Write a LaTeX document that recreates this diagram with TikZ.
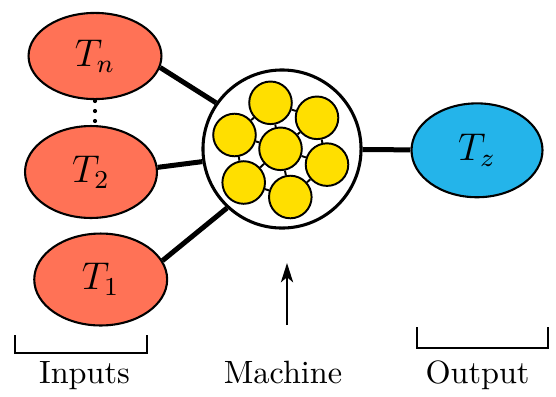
\documentclass[tikz,border=0pt]{standalone}
\usetikzlibrary{shapes.geometric,arrows.meta}
\definecolor{inred}{HTML}{FF7256}
\definecolor{outblue}{HTML}{24B4EA}
\definecolor{unityellow}{HTML}{FFDF00}
\begin{document}
\begin{tikzpicture}[x=0.31pt,y=-0.31pt,
  term/.style={ellipse,draw,line width=0.65pt,inner sep=0pt,font=\large},
  machine/.style={circle,draw,line width=0.95pt,minimum size=49pt,inner sep=0pt},
  unit/.style={circle,draw,line width=0.6pt,fill=unityellow,minimum size=13.2pt,inner sep=0pt},
  link/.style={line width=1.55pt},
  ulink/.style={line width=0.6pt},
  bracket/.style={line width=0.6pt},
  lbl/.style={anchor=base,inner sep=0pt}]
\useasboundingbox (0,0) rectangle (556,396);
% input and output terms
\node[term,fill=inred,minimum width=41.2pt,minimum height=26.7pt] (Tn) at (95,56) {$T_n$};
\node[term,fill=inred,minimum width=40.9pt,minimum height=28.5pt] (T2) at (91,172) {$T_2$};
\node[term,fill=inred,minimum width=41.2pt,minimum height=28.5pt] (T1) at (100.7,279.5) {$T_1$};
\node[term,fill=outblue,minimum width=40.6pt,minimum height=29.1pt] (Tz) at (477,150.3) {$T_z$};
% machine
\node[machine] (M) at (282,149) {};
\node[unit] (u1) at (270.5,102.8) {};
\node[unit] (u2) at (317,117.8) {};
\node[unit] (u3) at (234.5,135) {};
\node[unit] (u4) at (280.5,148.8) {};
\node[unit] (u5) at (327,164.6) {};
\node[unit] (u6) at (243.7,182.5) {};
\node[unit] (u7) at (290.3,197) {};
\foreach \a/\b in {u1/u2,u1/u3,u1/u4,u2/u4,u2/u5,u3/u4,u3/u6,u4/u5,u4/u6,u4/u7,u5/u7,u6/u7}
  \draw[ulink] (\a) -- (\b);
% connectors
\draw[link] (Tn.-10) -- (M.145);
\draw[link] (T2.4) -- (M.189);
\draw[link] (T1.17) -- (M.227);
\draw[link] (M) -- (Tz);
% dots between T_n and T_2
\fill (95,101) circle (2.1);
\fill (95,111) circle (2.1);
\fill (95,121) circle (2.1);
% brackets
\draw[bracket] (15,335) -- (15,353) -- (147,353) -- (147,335);
\draw[bracket] (417,327) -- (417,348) -- (548,348) -- (548,327);
% arrow to machine
\coordinate (arrS) at (287,325);
\coordinate (arrE) at (287,263);
\draw[line width=0.6pt,-{Stealth[length=6pt,width=3.8pt,inset=1.6pt]}] (arrS) -- (arrE);
% labels
\node[lbl] (lin) at (84.5,383) {Inputs};
\node[lbl] (lma) at (283,383) {Machine};
\node[lbl] (lout) at (477.5,383) {Output};
\end{tikzpicture}
\end{document}
